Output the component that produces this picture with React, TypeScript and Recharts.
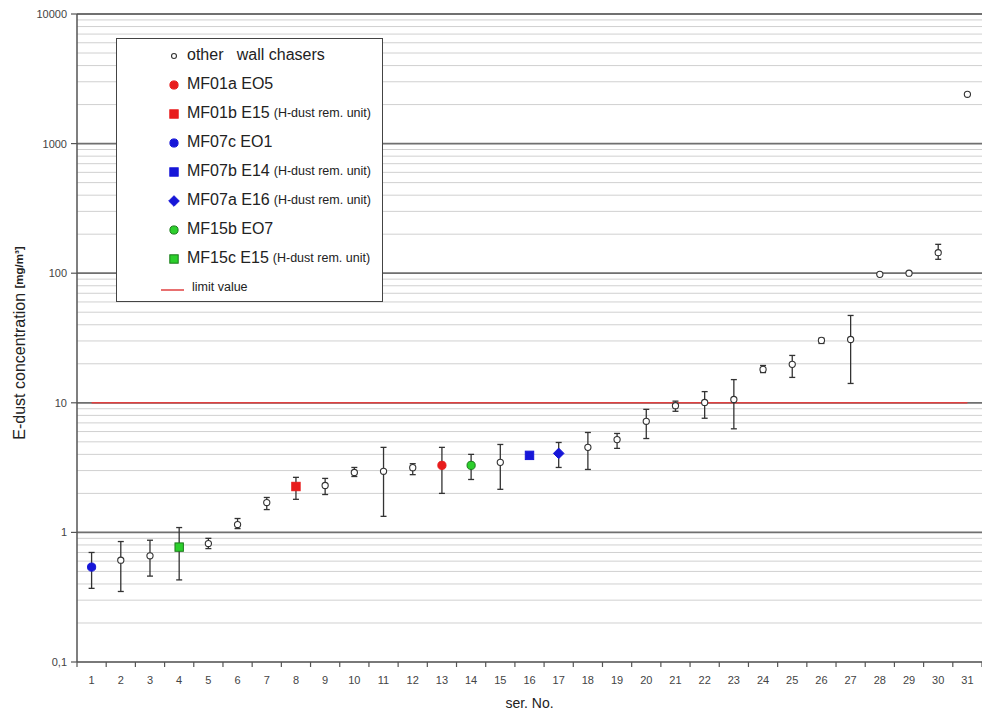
import React from 'react';
import { ScatterChart, Scatter, XAxis, YAxis, CartesianGrid, ReferenceLine, ErrorBar } from 'recharts';

// series number, mean concentration and error bar ends (mg/m³)
const serNo = [1, 2, 3, 4, 5, 6, 7, 8, 9, 10, 11, 12, 13, 14, 15, 16, 17, 18, 19, 20, 21, 22, 23, 24, 25, 26, 27, 28, 29, 30, 31];
const conc = [0.54, 0.61, 0.66, 0.77, 0.82, 1.15, 1.7, 2.26, 2.3, 2.9, 2.96, 3.16, 3.29, 3.29, 3.47, 3.93, 4.07, 4.53, 5.2, 7.2, 9.5, 10.06, 10.6, 18.1, 19.8, 30.3, 30.8, 98, 100, 144, 2400];
const errLow = [0.37, 0.35, 0.46, 0.43, 0.75, 1.07, 1.5, 1.8, 1.96, 2.7, 1.33, 2.79, 2.0, 2.56, 2.15, 3.93, 3.17, 3.06, 4.45, 5.3, 8.6, 7.6, 6.3, 17.1, 15.7, 28.7, 14.1, 98, 100, 128, 2400];
const errHigh = [0.7, 0.85, 0.87, 1.09, 0.9, 1.28, 1.86, 2.66, 2.61, 3.17, 4.53, 3.39, 4.53, 4.0, 4.77, 3.93, 4.94, 5.9, 5.8, 8.9, 10.3, 12.2, 15.1, 19.4, 23.2, 31.5, 47.2, 98, 100, 167, 2400];
const group = ['MF07c', 'other', 'other', 'MF15c', 'other', 'other', 'other', 'MF01b', 'other', 'other', 'other', 'other', 'MF01a', 'MF15b', 'other', 'MF07b', 'MF07a', 'other', 'other', 'other', 'other', 'other', 'other', 'other', 'other', 'other', 'other', 'other', 'other', 'other', 'other'];

const seriesKeys = ['other', 'MF01a', 'MF01b', 'MF07c', 'MF07b', 'MF07a', 'MF15b', 'MF15c'];
const seriesNames = ['other   wall chasers', 'MF01a EO5', 'MF01b E15', 'MF07c EO1', 'MF07b E14', 'MF07a E16', 'MF15b EO7', 'MF15c E15'];
const seriesNotes = ['', '', '(H-dust rem. unit)', '', '(H-dust rem. unit)', '(H-dust rem. unit)', '', '(H-dust rem. unit)'];

const limitValue = 10;
const limitName = 'limit value';

const decades = [0.1, 1, 10, 100, 1000, 10000];
const decadeLabels = ['0,1', '1', '10', '100', '1000', '10000'];
const minorSteps = [1, 2, 3, 4, 5, 6, 7, 8, 9];

const yTicks = decades.flatMap((d, i) =>
  i === decades.length - 1 ? [d] : minorSteps.map((m) => +(d * m).toPrecision(6))
);
const xTicks = [...serNo.map((n) => n - 0.5), serNo[serNo.length - 1] + 0.5, ...serNo].sort((a, b) => a - b);

const markerStyle: Record<string, { kind: string; fill: string; stroke: string; size: number }> = {
  other: { kind: 'circle', fill: '#ffffff', stroke: '#333333', size: 3.1 },
  MF01a: { kind: 'circle', fill: '#e81c1c', stroke: '#e81c1c', size: 4.1 },
  MF01b: { kind: 'square', fill: '#e81c1c', stroke: '#e81c1c', size: 4.2 },
  MF07c: { kind: 'circle', fill: '#1616d8', stroke: '#1616d8', size: 4.1 },
  MF07b: { kind: 'square', fill: '#1616d8', stroke: '#1616d8', size: 4.2 },
  MF07a: { kind: 'diamond', fill: '#1616d8', stroke: '#1616d8', size: 5.3 },
  MF15b: { kind: 'circle', fill: '#2ccf2c', stroke: '#1a7a1a', size: 4.1 },
  MF15c: { kind: 'square', fill: '#2ccf2c', stroke: '#1a7a1a', size: 4.2 },
};

const rows = serNo.map((no, i) => ({
  no,
  value: conc[i],
  err: [conc[i] - errLow[i], errHigh[i] - conc[i]],
  group: group[i],
}));

const font = '"Liberation Sans", Arial, sans-serif';

const Marker = ({ cx, cy, k, scale = 1 }: { cx: number; cy: number; k: string; scale?: number }) => {
  const s = markerStyle[k];
  const r = s.size * scale;
  if (s.kind === 'square') {
    return <rect x={cx - r} y={cy - r} width={2 * r} height={2 * r} fill={s.fill} stroke={s.stroke} strokeWidth={1} />;
  }
  if (s.kind === 'diamond') {
    return (
      <polygon
        points={`${cx},${cy - r} ${cx + r},${cy} ${cx},${cy + r} ${cx - r},${cy}`}
        fill={s.fill}
        stroke={s.stroke}
        strokeWidth={1}
      />
    );
  }
  return <circle cx={cx} cy={cy} r={r} fill={s.fill} stroke={s.stroke} strokeWidth={k === 'other' ? 1.1 : 1} />;
};

const YTick = (props: any) => {
  const { x, y, payload } = props;
  const idx = decades.indexOf(payload.value);
  if (idx < 0) return <g />;
  return (
    <g>
      <line x1={x - 6} y1={y} x2={x} y2={y} stroke="#555" strokeWidth={1.2} />
      <text x={x - 10} y={y} dy={4} textAnchor="end" fontSize={11} fill="#444" fontFamily={font}>
        {decadeLabels[idx]}
      </text>
    </g>
  );
};

const XTick = (props: any) => {
  const { x, y, payload } = props;
  const v = payload.value;
  if (Number.isInteger(v)) {
    return (
      <text x={x} y={y + 22} textAnchor="middle" fontSize={11} fill="#444" fontFamily={font}>
        {v}
      </text>
    );
  }
  return <line x1={x} y1={y} x2={x} y2={y + 5} stroke="#555" strokeWidth={1.2} />;
};

const YLabel = (props: any) => {
  const vb = props.viewBox || { x: 0, y: 0, width: 0, height: 0 };
  const cx = vb.x + 19;
  const cy = vb.y + vb.height / 2 + 5;
  return (
    <text x={cx} y={cy} transform={`rotate(-90 ${cx} ${cy})`} textAnchor="middle" dominantBaseline="central" fill="#222" fontFamily={font}>
      <tspan fontSize={16}>E-dust concentration </tspan>
      <tspan fontSize={11.5} fontWeight="bold">[mg/m³]</tspan>
    </text>
  );
};

const Legend = () => (
  <div
    style={{
      position: 'absolute',
      left: 116,
      top: 38,
      width: 267,
      height: 264,
      border: '1px solid #444',
      background: '#fff',
      fontFamily: font,
      color: '#222',
      boxSizing: 'border-box',
    }}
  >
    <div style={{ height: 1 }} />
    {seriesKeys.map((k, i) => (
      <div key={k} style={{ height: 29, display: 'flex', alignItems: 'center', whiteSpace: 'pre' }}>
        <svg width={70} height={14} style={{ flex: 'none' }}>
          <Marker cx={57} cy={8} k={k} scale={k === 'other' ? 0.8 : 1} />
        </svg>
        <span style={{ fontSize: 16 }}>{seriesNames[i]}</span>
        {seriesNotes[i] && <span style={{ fontSize: 12.5, marginLeft: 4 }}>{seriesNotes[i]}</span>}
      </div>
    ))}
    <div style={{ height: 29, display: 'flex', alignItems: 'center' }}>
      <svg width={75} height={14} style={{ flex: 'none' }}>
        <line x1={44} y1={10} x2={67} y2={10} stroke="#e04040" strokeWidth={1.5} />
      </svg>
      <span style={{ fontSize: 12.5 }}>{limitName}</span>
    </div>
  </div>
);

export default function App() {
  return (
    <div style={{ position: 'absolute', left: 0, top: 0, width: 982, height: 713, background: '#fff' }}>
      <ScatterChart width={982} height={713} margin={{ top: 14, right: 0, bottom: 0, left: 0 }}>
        <CartesianGrid vertical={false} stroke="#d0d0d0" strokeWidth={1} />
        <XAxis
          type="number"
          dataKey="no"
          domain={[0.5, 31.5]}
          ticks={xTicks}
          interval={0}
          tick={<XTick />}
          tickLine={false}
          tickSize={0}
          tickMargin={0}
          height={51}
          axisLine={{ stroke: '#555', strokeWidth: 1.5 }}
          label={{ value: 'ser. No.', position: 'insideBottom', offset: 5, fontSize: 14, fill: '#222', fontFamily: font }}
        />
        <YAxis
          type="number"
          dataKey="value"
          scale="log"
          domain={[0.1, 10000]}
          allowDataOverflow
          ticks={yTicks}
          interval={0}
          tick={<YTick />}
          tickLine={false}
          tickSize={0}
          tickMargin={0}
          width={77}
          axisLine={{ stroke: '#555', strokeWidth: 1.5 }}
          label={{ content: <YLabel /> }}
        />
        {decades.slice(1).map((d) => (
          <ReferenceLine key={d} y={d} stroke="#707070" strokeWidth={1.8} />
        ))}
        <ReferenceLine
          segment={[
            { x: serNo[0], y: limitValue },
            { x: serNo[serNo.length - 1], y: limitValue },
          ]}
          stroke="#e04040"
          strokeWidth={1.5}
        />
        {seriesKeys.map((k) => (
          <Scatter
            key={k}
            name={k}
            data={rows.filter((r) => r.group === k)}
            isAnimationActive={false}
            shape={(p: any) => <Marker cx={p.cx} cy={p.cy} k={k} />}
          >
            <ErrorBar dataKey="err" direction="y" width={3} stroke="#333" strokeWidth={1.3} />
          </Scatter>
        ))}
      </ScatterChart>
      <Legend />
    </div>
  );
}
